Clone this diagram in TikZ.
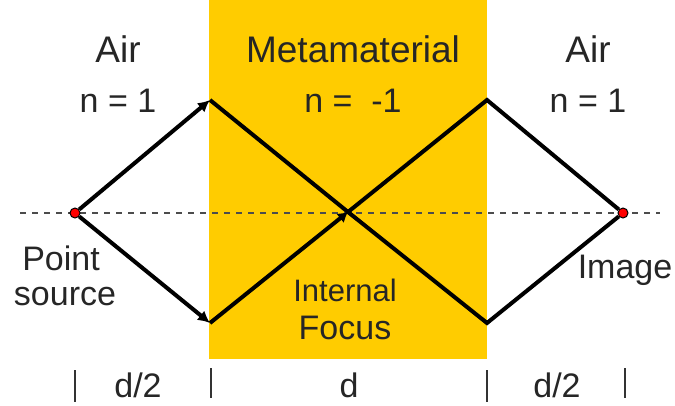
\documentclass[tikz,border=0pt]{standalone}
\usepackage{fontspec}
\setmainfont{Liberation Sans}
\usetikzlibrary{arrows.meta}
\definecolor{meta}{RGB}{255,204,0}
\begin{document}
\begin{tikzpicture}[x=1pt,y=-1pt,
  lbl/.style={inner sep=0pt,text=black!85},
  big/.style={lbl,font=\fontsize{37}{39}\selectfont},
  mid/.style={lbl,font=\fontsize{34}{36}\selectfont},
  sml/.style={lbl,font=\fontsize{31}{33}\selectfont},
  ray/.style={line width=4pt,black},
  dot/.style={circle,fill=red,draw=black,line width=1pt,minimum size=10pt,inner sep=0pt},
  tick/.style={line width=2.8pt,black!80},
  axis/.style={line width=1.3pt,dash pattern=on 6pt off 6pt,black!70}]
\useasboundingbox (0,0) rectangle (675,405);
\fill[meta] (209,0) rectangle (487,359);
\draw[axis] (20,213) -- (660,213);
\coordinate (a) at (210,100);
\coordinate (b) at (210,323);
\coordinate (c) at (487,100);
\coordinate (d) at (487,323);
\coordinate (f) at (348,212);
\node[dot] (src) at (75,213) {};
\node[dot] (img) at (623,213) {};
\draw[ray,-{Latex[length=12pt,width=12pt]}] (src) -- (a);
\draw[ray,-{Latex[length=12pt,width=12pt]}] (src) -- (b);
\draw[ray] (a) -- (f);
\draw[ray,-{Latex[length=10pt,width=12pt]}] (b) -- (f);
\draw[ray] (f) -- (d) -- (img);
\draw[ray] (f) -- (c) -- (img);
\node[big] (air1) at (118,49) {Air};
\node[mid] (n1) at (118,101) {n = 1};
\node[big] (meta) at (353,49) {Metamaterial};
\node[mid] (n2) at (353,101) {n =\ \ -1};
\node[big] (air2) at (588,49) {Air};
\node[mid] (n3) at (588,101) {n = 1};
\node[mid] (pt) at (61,258) {Point};
\node[mid] (srcl) at (65,297) {source};
\node[sml] (int) at (345,290) {Internal};
\node[mid] (foc) at (345,328) {Focus};
\node[mid] (imgl) at (625,270) {Image};
\node[mid] (h1) at (138,385) {d/2};
\node[mid] (dd) at (349,385) {d};
\node[mid] (h2) at (557,385) {d/2};
\coordinate (t1a) at (75,370); \coordinate (t1b) at (75,402);
\coordinate (t2a) at (211,368); \coordinate (t2b) at (211,398);
\coordinate (t3a) at (487,370); \coordinate (t3b) at (487,402);
\coordinate (t4a) at (625,368); \coordinate (t4b) at (625,398);
\draw[tick] (t1a) -- (t1b);
\draw[tick] (t2a) -- (t2b);
\draw[tick] (t3a) -- (t3b);
\draw[tick] (t4a) -- (t4b);
\end{tikzpicture}
\end{document}
